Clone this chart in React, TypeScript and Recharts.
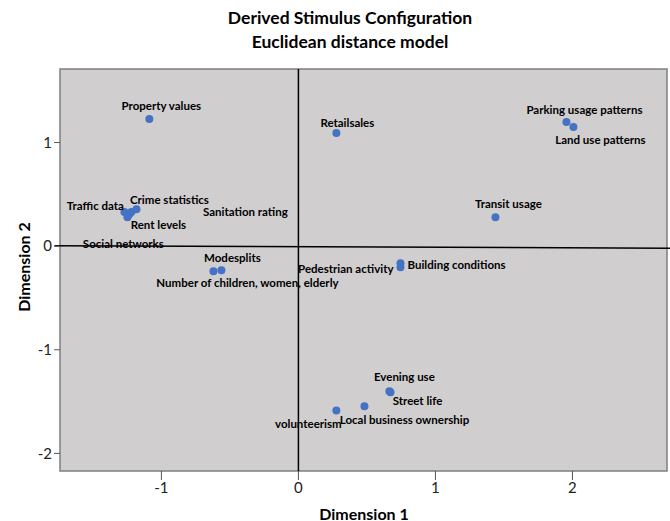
import React from "react";
import {
  ScatterChart,
  Scatter,
  XAxis,
  YAxis,
  ReferenceArea,
  ReferenceLine,
} from "recharts";

// stimulus names and their coordinates (dimension 1 / dimension 2)
const stimulusNames = [
  "Property values",
  "Retailsales",
  "Parking usage patterns",
  "Land use patterns",
  "Transit usage",
  "Traffic data",
  "Crime statistics",
  "Rent levels",
  "Social networks",
  "Sanitation rating",
  "Modesplits",
  "Number of children, women, elderly",
  "Pedestrian activity",
  "Building conditions",
  "Evening use",
  "Street life",
  "Local business ownership",
  "volunteerism",
];

const dimension1 = [
  -1.088, 0.277, 1.956, 2.007, 1.438, -1.27, -1.182, -1.248, -1.234, -1.219,
  -0.562, -0.62, 0.745, 0.745, 0.664, 0.672, 0.482, 0.277,
];

const dimension2 = [
  1.227, 1.092, 1.198, 1.15, 0.28, 0.329, 0.357, 0.28, 0.309, 0.329, -0.232,
  -0.242, -0.203, -0.164, -1.401, -1.411, -1.546, -1.585,
];

const xTicks = [-1, 0, 1, 2];
const yTicks = [1, 0, -1, -2];

const X_DOMAIN: [number, number] = [-1.74, 2.69];
const Y_DOMAIN: [number, number] = [-2.17, 1.71];

// where each label sits relative to its dot (layout only)
const labelLayout: Record<string, { dx: number; dy: number; anchor?: string }> = {
  "Property values": { dx: 12, dy: -14 },
  Retailsales: { dx: 11, dy: -11 },
  "Parking usage patterns": { dx: 18, dy: -13 },
  "Land use patterns": { dx: 27, dy: 12 },
  "Transit usage": { dx: 13, dy: -14 },
  "Traffic data": { dx: -29, dy: -7 },
  "Crime statistics": { dx: 33, dy: -10 },
  "Rent levels": { dx: 31, dy: 7 },
  "Social networks": { dx: -6, dy: 29 },
  "Sanitation rating": { dx: 114, dy: -1 },
  Modesplits: { dx: 11, dy: -13 },
  "Number of children, women, elderly": { dx: 34, dy: 11 },
  "Pedestrian activity": { dx: -7, dy: 1, anchor: "end" },
  "Building conditions": { dx: 7, dy: 1, anchor: "start" },
  "Evening use": { dx: 15, dy: -15 },
  "Street life": { dx: 27, dy: 8 },
  "Local business ownership": { dx: 40, dy: 13 },
  volunteerism: { dx: -28, dy: 13 },
};

const FONT = "Lato, 'Open Sans', sans-serif";

const points = stimulusNames.map((name, i) => ({
  name,
  x: dimension1[i],
  y: dimension2[i],
}));

const PointShape = (props: any) => {
  const { cx, cy, payload } = props;
  const lay = labelLayout[payload.name] || { dx: 0, dy: -12 };
  return (
    <g>
      <circle cx={cx} cy={cy} r={4} fill="#4472c4" />
      <text
        x={cx + lay.dx}
        y={cy + lay.dy}
        textAnchor={lay.anchor || "middle"}
        dominantBaseline="central"
        fontFamily={FONT}
        fontWeight="bold"
        fontSize={11.5}
        fill="#000"
      >
        {payload.name}
      </text>
    </g>
  );
};

export default function App() {
  return (
    <div
      style={{
        position: "absolute",
        left: 0,
        top: 0,
        width: 670,
        height: 521,
        background: "#ffffff",
        fontFamily: FONT,
      }}
    >
      <div
        style={{
          position: "absolute",
          left: 0,
          width: 700,
          top: 6,
          textAlign: "center",
          fontWeight: "bold",
          fontSize: 17.5,
          lineHeight: "24px",
          color: "#000",
        }}
      >
        Derived Stimulus Configuration
        <br />
        Euclidean distance model
      </div>

      <ScatterChart
        width={670}
        height={521}
        margin={{ top: 69, right: 3, bottom: 0, left: 0 }}
      >
        <XAxis
          type="number"
          dataKey="x"
          domain={X_DOMAIN}
          ticks={xTicks}
          allowDataOverflow
          axisLine={false}
          tickLine={{ stroke: "#555" }}
          tickSize={9}
          height={50}
          tick={{ fontSize: 15, fill: "#222", fontFamily: FONT }}
        />
        <YAxis
          type="number"
          dataKey="y"
          domain={Y_DOMAIN}
          ticks={yTicks}
          allowDataOverflow
          axisLine={false}
          tickLine={{ stroke: "#555" }}
          tickSize={6}
          width={60}
          tick={{ fontSize: 15, fill: "#222", fontFamily: FONT }}
        />
        <ReferenceArea
          x1={X_DOMAIN[0]}
          x2={X_DOMAIN[1]}
          y1={Y_DOMAIN[0]}
          y2={Y_DOMAIN[1]}
          fill="#d0cece"
          fillOpacity={1}
          stroke="#7f7f7f"
          strokeWidth={1.5}
        />
        <ReferenceLine x={0} stroke="#000" strokeWidth={1.5} />
        <ReferenceLine
          segment={[
            { x: -1.78, y: 0.005 },
            { x: 2.72, y: -0.02 },
          ]}
          stroke="#000"
          strokeWidth={1.5}
          ifOverflow="visible"
        />
        <Scatter data={points} shape={PointShape} isAnimationActive={false} />
      </ScatterChart>

      <div
        style={{
          position: "absolute",
          left: 364,
          top: 513,
          transform: "translate(-50%, -50%)",
          fontWeight: "bold",
          fontSize: 16,
          whiteSpace: "nowrap",
        }}
      >
        Dimension 1
      </div>
      <div
        style={{
          position: "absolute",
          left: 23,
          top: 267,
          transform: "translate(-50%, -50%) rotate(-90deg)",
          fontWeight: "bold",
          fontSize: 16,
          whiteSpace: "nowrap",
        }}
      >
        Dimension 2
      </div>
    </div>
  );
}
